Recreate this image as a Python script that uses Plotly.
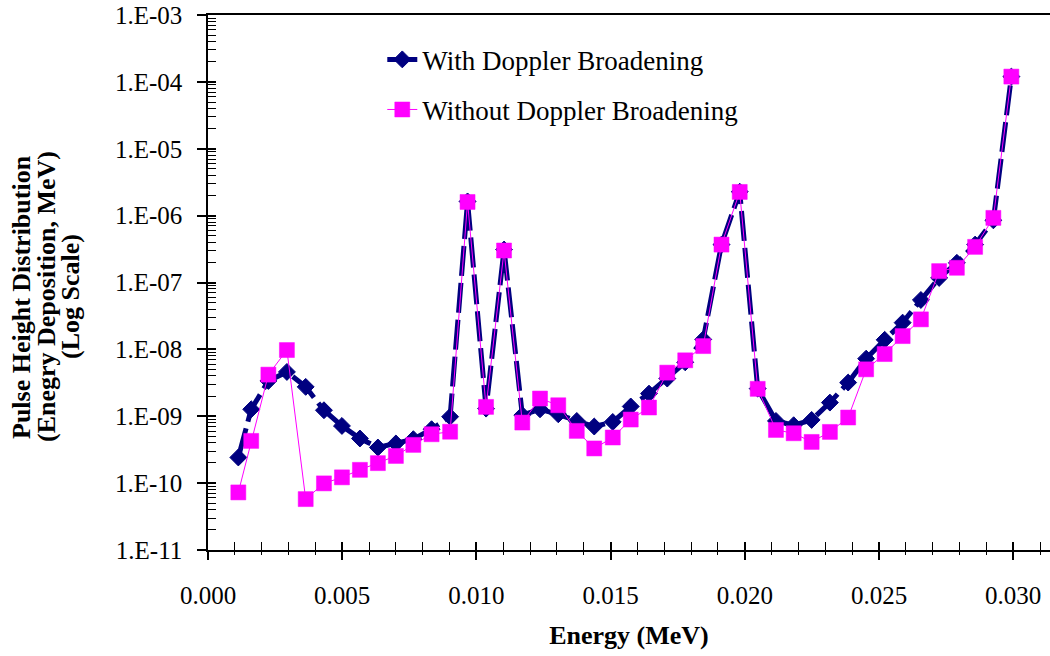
import plotly.graph_objects as go

# Energy bins (MeV)
energy = [0.00113, 0.00161, 0.00225, 0.00294, 0.00364, 0.00432, 0.00499, 0.00566,
          0.00633, 0.00700, 0.00765, 0.00833, 0.00902, 0.00967, 0.01036, 0.01103,
          0.01171, 0.01237, 0.01305, 0.01374, 0.01439, 0.01508, 0.01575, 0.01643,
          0.01711, 0.01778, 0.01845, 0.01913, 0.01981, 0.02048, 0.02116, 0.02182,
          0.02249, 0.02317, 0.02385, 0.02452, 0.02521, 0.02588, 0.02656, 0.02724,
          0.02790, 0.02858, 0.02926, 0.02993]

# Pulse height distribution with Doppler broadening
with_doppler = [2.42e-10, 1.27e-9, 3.37e-9, 4.6e-9, 2.75e-9, 1.23e-9, 7.16e-10, 4.65e-10,
                3.41e-10, 3.92e-10, 4.54e-10, 6.40e-10, 9.84e-10, 1.63e-6, 1.30e-9, 3.11e-7,
                1.04e-9, 1.27e-9, 1.07e-9, 8.51e-10, 7.02e-10, 8.22e-10, 1.40e-9, 2.18e-9,
                3.66e-9, 6.40e-9, 1.41e-8, 3.69e-7, 2.28e-6, 2.59e-9, 8.51e-10, 7.34e-10,
                8.81e-10, 1.60e-9, 3.19e-9, 7.26e-9, 1.39e-8, 2.51e-8, 5.48e-8, 1.17e-7,
                1.97e-7, 3.69e-7, 8.51e-7, 1.20e-4]

# Pulse height distribution without Doppler broadening
without_doppler = [7.26e-11, 4.28e-10, 4.19e-9, 9.77e-9, 5.77e-11, 9.91e-11, 1.22e-10, 1.58e-10,
                   1.99e-10, 2.55e-10, 3.73e-10, 5.38e-10, 5.87e-10, 1.60e-6, 1.38e-9, 3.01e-7,
                   8.05e-10, 1.84e-9, 1.46e-9, 6.04e-10, 3.30e-10, 4.81e-10, 8.93e-10, 1.35e-9,
                   4.49e-9, 6.86e-9, 1.12e-8, 3.69e-7, 2.26e-6, 2.57e-9, 6.24e-10, 5.57e-10,
                   4.13e-10, 5.83e-10, 9.57e-10, 5.03e-9, 8.51e-9, 1.58e-8, 2.81e-8, 1.48e-7,
                   1.66e-7, 3.41e-7, 9.25e-7, 1.20e-4]

y_tick_vals = [1e-11, 1e-10, 1e-9, 1e-8, 1e-7, 1e-6, 1e-5, 1e-4, 1e-3]
y_tick_text = ["1.E-11", "1.E-10", "1.E-09", "1.E-08", "1.E-07", "1.E-06", "1.E-05", "1.E-04", "1.E-03"]
x_tick_vals = [0.000, 0.005, 0.010, 0.015, 0.020, 0.025, 0.030]
x_tick_text = ["0.000", "0.005", "0.010", "0.015", "0.020", "0.025", "0.030"]

NAVY = "#000080"
MAGENTA = "#FF00FF"
FONT = "Liberation Serif, Times New Roman, serif"

x_range = [0.0, 0.03137]
y_range = [-11, -3]
minor_log = [k * 10.0 ** e for e in range(-11, -3) for k in range(2, 10)]

fig = go.Figure()

fig.add_trace(go.Scatter(
    x=energy, y=with_doppler, mode="lines+markers",
    name="With Doppler Broadening", legendgroup="a",
    line=dict(color=NAVY, width=5, dash="30px,7px"),
    marker=dict(symbol="diamond", size=13, color=NAVY, line=dict(color=NAVY, width=1)),
))
fig.add_trace(go.Scatter(
    x=energy, y=without_doppler, mode="lines+markers",
    name="Without Doppler Broadening", legendgroup="b",
    line=dict(color=MAGENTA, width=1),
    marker=dict(symbol="square", size=15, color=MAGENTA, line=dict(color=MAGENTA, width=0.5)),
))
# invisible carrier for the overlaid tick axes
fig.add_trace(go.Scatter(
    x=energy, y=with_doppler, xaxis="x2", yaxis="y2", mode="markers",
    marker=dict(opacity=0), showlegend=False, hoverinfo="skip",
))

fig.update_layout(
    width=1050, height=656,
    margin=dict(l=208, r=0, t=15, b=106),
    paper_bgcolor="white", plot_bgcolor="white",
    font=dict(family=FONT, size=25, color="black"),
    showlegend=True,
    legend=dict(
        x=0.207, y=0.962, xanchor="left", yanchor="top",
        bgcolor="rgba(0,0,0,0)", font=dict(size=27, family=FONT),
        traceorder="grouped", tracegroupgap=12,
    ),
    xaxis=dict(
        range=x_range, showgrid=False, zeroline=False,
        showline=True, linecolor="black", linewidth=1.5, mirror=True,
        tickmode="array", tickvals=x_tick_vals, ticktext=x_tick_text,
        ticks="outside", ticklen=8, tickwidth=1.5, tickcolor="black",
        ticklabelstandoff=14,
        minor=dict(ticks="outside", ticklen=3, tickwidth=1.2, tickcolor="black",
                   tickmode="linear", tick0=0, dtick=0.001),
        title=dict(text="<b>Energy (MeV)</b>", font=dict(size=26, family=FONT), standoff=18),
    ),
    yaxis=dict(
        type="log", range=y_range, showgrid=False, zeroline=False,
        showline=True, linecolor="black", linewidth=1.5,
        tickmode="array", tickvals=y_tick_vals, ticktext=y_tick_text,
        ticks="outside", ticklen=9, tickwidth=1.5, tickcolor="black",
        ticklabelstandoff=10,
    ),
    xaxis2=dict(
        overlaying="x", anchor="y2", range=x_range, matches="x",
        showgrid=False, zeroline=False, showline=False, showticklabels=False,
        tickmode="array", tickvals=x_tick_vals,
        ticks="inside", ticklen=8, tickwidth=1.5, tickcolor="black",
        minor=dict(ticks="inside", ticklen=8, tickwidth=1.2, tickcolor="black",
                   tickmode="linear", tick0=0, dtick=0.001),
    ),
    yaxis2=dict(
        overlaying="y", anchor="x2", type="log", range=y_range, matches="y",
        showgrid=False, zeroline=False, showline=False, showticklabels=False,
        tickmode="array", tickvals=y_tick_vals,
        ticks="inside", ticklen=8, tickwidth=1.5, tickcolor="black",
        minor=dict(ticks="inside", ticklen=8, tickwidth=1, tickcolor="black",
                   tickmode="array", tickvals=minor_log),
    ),
)

# three-line vertical axis title
y_title_lines = ["Pulse Height Distribution", "(Enegry Deposition, MeV)", "(Log Scale)"]
y_title_x = [21, 46, 70]
for line, px in zip(y_title_lines, y_title_x):
    fig.add_annotation(
        text="<b>" + line + "</b>", textangle=-90,
        xref="paper", yref="paper",
        x=(px - 208) / 842, y=1 - (297 - 15) / 535,
        xanchor="center", yanchor="middle", showarrow=False,
        font=dict(size=26, family=FONT, color="black"),
    )

fig.write_html("out.html")
